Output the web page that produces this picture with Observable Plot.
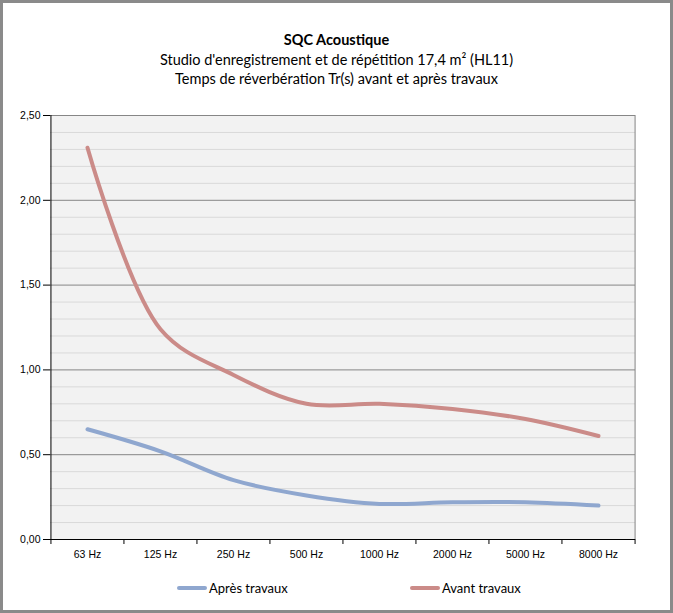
<!DOCTYPE html>
<html>
<head>
<meta charset="utf-8">
<script src="https://cdn.jsdelivr.net/npm/d3@7"></script>
<script src="https://cdn.jsdelivr.net/npm/@observablehq/plot@0.6"></script>
<style>
  html, body { margin: 0; padding: 0; background: #fff; }
  #wrap { position: relative; width: 673px; height: 613px; overflow: hidden; background: #fff; }
  #frame { position: absolute; left: 0; top: 0; width: 673px; height: 613px; box-sizing: border-box; border: 3px solid #8a8a8a; pointer-events: none; }
  .t { position: absolute; left: 0; width: 673px; text-align: center; font-family: Lato, "Open Sans", sans-serif; color: #000; white-space: nowrap; }
  #chart { position: absolute; left: 0; top: 100px; }
  .leg { position: absolute; top: 580px; font-family: Lato, "Open Sans", sans-serif; font-size: 13px; color: #000; display: flex; align-items: center; }
  .leg span.sw { display: inline-block; width: 30px; height: 4px; border-radius: 2px; margin-right: 2px; }
</style>
</head>
<body>
<div id="wrap">
  <div class="t" style="top:31px;font-size:14.5px;font-weight:bold;">SQC Acoustique</div>
  <div class="t" style="top:51px;font-size:14.5px;">Studio d'enregistrement et de répétition 17,4 m² (HL11)</div>
  <div class="t" style="top:70px;font-size:14.5px;">Temps de réverbération Tr(s) avant et après travaux</div>
  <div id="chart"></div>
  <div class="leg" style="left:177px;"><span class="sw" style="background:#8fa7cf"></span>Après travaux</div>
  <div class="leg" style="left:410px;"><span class="sw" style="background:#cb8b88"></span>Avant travaux</div>
  <div id="frame"></div>
</div>
<script>
const categories = ["63 Hz", "125 Hz", "250 Hz", "500 Hz", "1000 Hz", "2000 Hz", "5000 Hz", "8000 Hz"];
const apres = [0.65, 0.52, 0.35, 0.26, 0.21, 0.22, 0.22, 0.20];
const avant = [2.31, 1.24, 0.97, 0.80, 0.80, 0.77, 0.71, 0.61];
const majorTicks = [0, 0.5, 1.0, 1.5, 2.0, 2.5];
const minorTicks = [0.1, 0.2, 0.3, 0.4, 0.6, 0.7, 0.8, 0.9, 1.1, 1.2, 1.3, 1.4, 1.6, 1.7, 1.8, 1.9, 2.1, 2.2, 2.3, 2.4];
const seriesNames = ["Après travaux", "Avant travaux"];
const seriesColors = ["#8fa7cf", "#cb8b88"];

const rows = [];
categories.forEach((c, i) => {
  rows.push({cat: c, value: apres[i], serie: seriesNames[0]});
  rows.push({cat: c, value: avant[i], serie: seriesNames[1]});
});

const W = 673, H = 465, ML = 50, MR = 38, MT = 15, MB = 26;
const step = (W - ML - MR) / categories.length;
const fmt = d => d.toFixed(2).replace(".", ",");
const first = categories[0], last = categories[categories.length - 1];

const chart = Plot.plot({
  width: W, height: H,
  marginLeft: ML, marginRight: MR, marginTop: MT, marginBottom: MB,
  style: {fontFamily: "'Liberation Sans', Arial, sans-serif", fontSize: "10.5px", color: "#000", background: "transparent"},
  x: {type: "point", domain: categories, padding: 0.5, label: null},
  y: {domain: [0, 2.5], label: null},
  color: {domain: seriesNames, range: seriesColors},
  marks: [
    Plot.frame({fill: "#f2f2f2", stroke: null}),
    Plot.ruleY(minorTicks, {stroke: "#d9d9d9", strokeWidth: 1}),
    Plot.ruleY(majorTicks.filter(d => d > 0), {stroke: "#868686", strokeWidth: 1}),
    Plot.ruleX([last], {dx: step / 2, y1: 0, y2: 2.5, stroke: "#868686"}),
    Plot.axisY({ticks: majorTicks, tickFormat: fmt, tickSize: 7, tickPadding: 3, stroke: "#000", fontSize: 10.5}),
    Plot.axisX({tickSize: 0, tickPadding: 11, fontSize: 10.5}),
    Plot.ruleX(categories, {x: d => d, dx: -step / 2, y1: 0, y2: 0, insetBottom: -5, stroke: "#000"}),
    Plot.ruleX([last], {dx: step / 2, y1: 0, y2: 0, insetBottom: -5, stroke: "#000"}),
    Plot.line(rows, {x: "cat", y: "value", z: "serie", stroke: "serie", strokeWidth: 4, curve: "catmull-rom", strokeLinecap: "round", strokeLinejoin: "round"}),
    Plot.ruleY([0], {stroke: "#000"}),
    Plot.ruleX([first], {dx: -step / 2, y1: 0, y2: 2.5, stroke: "#000"})
  ]
});
document.getElementById("chart").appendChild(chart);
</script>
</body>
</html>
